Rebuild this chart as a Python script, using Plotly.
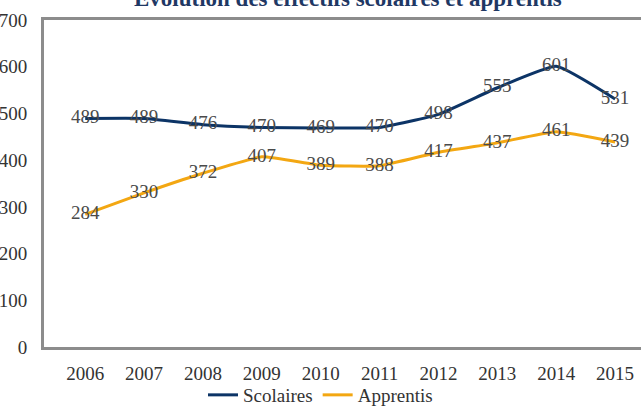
import plotly.graph_objects as go

years = ['2006', '2007', '2008', '2009', '2010', '2011', '2012', '2013', '2014', '2015']
scolaires = [489, 489, 476, 470, 469, 470, 498, 555, 601, 531]
apprentis = [284, 330, 372, 407, 389, 388, 417, 437, 461, 439]

serif = 'Liberation Serif, Times New Roman, serif'
blue = '#0C3466'
orange = '#F3A712'

fig = go.Figure()
for name, vals, col in [('Scolaires', scolaires, blue), ('Apprentis', apprentis, orange)]:
    fig.add_trace(go.Scatter(
        x=list(range(len(years))), y=vals, name=name, mode='lines+text',
        line=dict(color=col, width=3, shape='spline', smoothing=0.4),
        text=[str(v) for v in vals], textposition='middle center',
        textfont=dict(family=serif, size=19, color='#4a4a4a'),
        cliponaxis=False,
    ))

fig.add_annotation(
    text='<b>Évolution des effectifs scolaires et apprentis</b>',
    xref='paper', yref='paper', x=0.51, y=1.066, showarrow=False,
    xanchor='center', yanchor='middle',
    font=dict(family=serif, size=23, color='#1F3864'),
)

fig.update_layout(
    width=641, height=414,
    margin=dict(l=44, r=0, t=20, b=67, autoexpand=False),
    paper_bgcolor='white', plot_bgcolor='white',
    showlegend=True,
    legend=dict(orientation='h', xref='container', x=0.5, xanchor='center',
                yref='container', y=-0.03, yanchor='bottom',
                bgcolor='rgba(0,0,0,0)',
                font=dict(family=serif, size=19, color='#333333'),
                itemwidth=30, tracegroupgap=0),
    font=dict(family=serif, size=19, color='#333333'),
)
fig.update_xaxes(
    tickmode='array', tickvals=list(range(len(years))), ticktext=years,
    range=[-0.7, 9.44], showgrid=False, zeroline=False, automargin=False,
    showline=True, linecolor='#8c8c8c', linewidth=3, mirror=True,
    ticks='', ticklabelstandoff=7,
)
fig.update_yaxes(
    range=[0, 700], dtick=100, showgrid=False, zeroline=False, automargin=False,
    showline=True, linecolor='#8c8c8c', linewidth=3, mirror=False,
    ticks='', ticklabelstandoff=10,
)

# the page's default body margin would push the chart 8px right and down
fig.write_html('out.html', config={'displayModeBar': False},
               post_script="document.body.style.margin='0';")
